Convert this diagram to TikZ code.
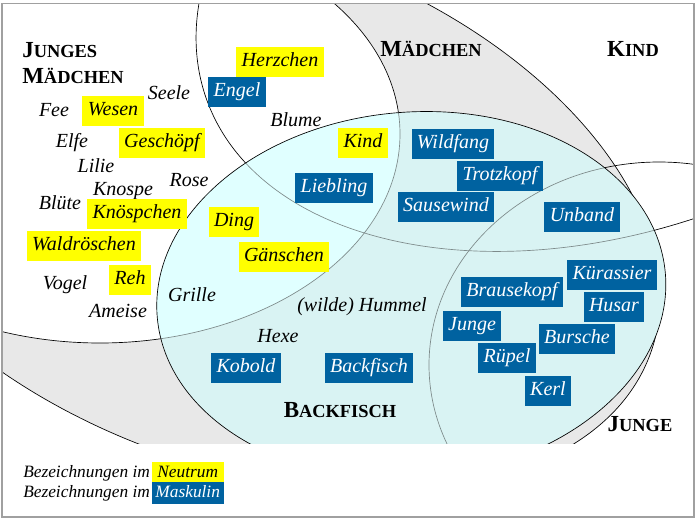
\documentclass[tikz,border=0pt]{standalone}
\usepackage{fontspec}
\setmainfont{Liberation Serif}
\usetikzlibrary{positioning}

\definecolor{maskblue}{RGB}{0,98,160}
\definecolor{neutyellow}{RGB}{255,255,0}
\definecolor{girlgray}{RGB}{232,232,232}
\definecolor{backlight}{RGB}{224,255,255}
\definecolor{backdark}{RGB}{217,243,243}
\definecolor{innerline}{RGB}{125,138,138}
\definecolor{framegray}{RGB}{160,160,160}

\newcommand\capword[2]{#1{\fontsize{13.8}{16}\selectfont #2}}

\begin{document}
\begin{tikzpicture}[x=0.75pt, y=-0.75pt,
    word/.style={font=\fontsize{15}{18}\selectfont\itshape, inner sep=0pt, text height=10.5pt, text depth=3.5pt},
    neut/.style={word, fill=neutyellow, inner xsep=4pt, inner ysep=4pt},
    mask/.style={neut, fill=maskblue, text=white},
    settitle/.style={font=\fontsize{17.25}{19.5}\selectfont\bfseries, inner sep=0pt, align=left},
    legend/.style={font=\fontsize{13}{15}\selectfont\itshape, inner sep=0pt},
    legbox/.style={legend, inner xsep=2pt, inner ysep=2pt, text height=9.5pt, text depth=3pt, minimum width=54pt},
    setline/.style={draw=black, line width=0.5pt},
    maedchenset/.style={rotate around={-20:(maedchenC)}},
    kindset/.style={rotate around={20:(kindC)}},
    backset/.style={rotate around={5:(backC)}}]
    \useasboundingbox (0,0) rectangle (696,521);

    % centres of the sets
    \coordinate (maedchenC) at (244.4,206);
    \coordinate (jungesC)   at (100,134);
    \coordinate (kindC)     at (620.4,-50.1);
    \coordinate (jungeC)    at (659,365);
    \coordinate (backC)     at (411.3,295.2);

    \begin{scope}
        \clip (2,4) rectangle (694,443);
        \fill[girlgray, maedchenset] (maedchenC) ellipse [x radius=324pt, y radius=195pt];
        \fill[white] (jungesC) ellipse [x radius=225pt, y radius=156.75pt];
        \draw[setline, maedchenset] (maedchenC) ellipse [x radius=324pt, y radius=195pt];
        \draw[setline] (jungesC) ellipse [x radius=225pt, y radius=156.75pt];
        \draw[setline, kindset] (kindC) ellipse [x radius=330pt, y radius=208.5pt];
        \draw[setline] (jungeC) ellipse [x radius=172.5pt, y radius=152.25pt];
        % Backfisch
        \fill[backdark, backset] (backC) ellipse [x radius=191.25pt, y radius=137.25pt];
        \begin{scope}
            \clip[backset] (backC) ellipse [x radius=191.25pt, y radius=137.25pt];
            \fill[backlight] (jungesC) ellipse [x radius=225pt, y radius=156.75pt];
            \draw[innerline, line width=0.5pt] (jungesC) ellipse [x radius=225pt, y radius=156.75pt];
            \draw[innerline, line width=0.5pt, kindset] (kindC) ellipse [x radius=330pt, y radius=208.5pt];
            \draw[innerline, line width=0.5pt] (jungeC) ellipse [x radius=172.5pt, y radius=152.25pt];
        \end{scope}
        \draw[setline, backset] (backC) ellipse [x radius=191.25pt, y radius=137.25pt];
    \end{scope}
    \draw[framegray, line width=1.2pt] (2,3.5) rectangle (694,517);

    % set names
    \node[settitle, anchor=west] (tjunges) at (22,63) {\capword{J}{UNGES}\\\capword{M}{ÄDCHEN}};
    \node[settitle] (tmaedchen) at (431,49) {\capword{M}{ÄDCHEN}};
    \node[settitle] (tkind)     at (633,49) {\capword{K}{IND}};
    \node[settitle] (tback)     at (340,410) {\capword{B}{ACKFISCH}};
    \node[settitle] (tjunge)    at (640,424) {\capword{J}{UNGE}};

    % plain words
    \node[word] (seele)  at (169,95)  {Seele};
    \node[word] (fee)    at (54,112)  {Fee};
    \node[word] (blume)  at (296,122) {Blume};
    \node[word] (elfe)   at (72,143)  {Elfe};
    \node[word] (lilie)  at (96,168)  {Lilie};
    \node[word] (rose)   at (189,182) {Rose};
    \node[word] (knospe) at (123,191) {Knospe};
    \node[word] (bluete) at (60,205)  {Blüte};
    \node[word] (vogel)  at (65,285)  {Vogel};
    \node[word] (ameise) at (118,313) {Ameise};
    \node[word] (grille) at (192,297) {Grille};
    \node[word] (hummel) at (362,307) {(wilde) Hummel};
    \node[word] (hexe)   at (278,338) {Hexe};

    % neuter words
    \node[neut] (herzchen)  at (280,62)  {Herzchen};
    \node[neut] (wesen)     at (113,111) {Wesen};
    \node[neut] (geschoepf) at (162,143) {Geschöpf};
    \node[neut] (kind)      at (363,143) {Kind};
    \node[neut] (knoesp)    at (137,214) {Knöspchen};
    \node[neut] (ding)      at (234,222) {Ding};
    \node[neut] (waldr)     at (84,246)  {Waldröschen};
    \node[neut] (gaens)     at (284,257) {Gänschen};
    \node[neut] (reh)       at (130,280) {Reh};

    % masculine words
    \node[mask] (engel)     at (237,92)  {Engel};
    \node[mask] (liebling)  at (334,188) {Liebling};
    \node[mask] (wildfang)  at (453,144) {Wildfang};
    \node[mask] (trotzkopf) at (500,176) {Trotzkopf};
    \node[mask] (sausewind) at (446,207) {Sausewind};
    \node[mask] (unband)    at (582,217) {Unband};
    \node[mask] (kuerass)   at (612,275) {Kürassier};
    \node[mask] (brause)    at (512,292) {Brausekopf};
    \node[mask] (husar)     at (614,307) {Husar};
    \node[mask] (junge)     at (472,326) {Junge};
    \node[mask] (bursche)   at (577,339) {Bursche};
    \node[mask] (ruepel)    at (507,358) {Rüpel};
    \node[mask] (kobold)    at (246,368) {Kobold};
    \node[mask] (backfisch) at (369,368) {Backfisch};
    \node[mask] (kerl)      at (548,391) {Kerl};

    % legend
    \node[legend, anchor=base west] (leg1) at (23,477) {Bezeichnungen im};
    \node[legbox, fill=neutyellow, base right=1pt of leg1] (legneut) {Neutrum};
    \node[legend, anchor=base west] (leg2) at (23,497) {Bezeichnungen im};
    \node[legbox, fill=maskblue, text=white, base right=1pt of leg2] (legmask) {Maskulin};
\end{tikzpicture}
\end{document}
